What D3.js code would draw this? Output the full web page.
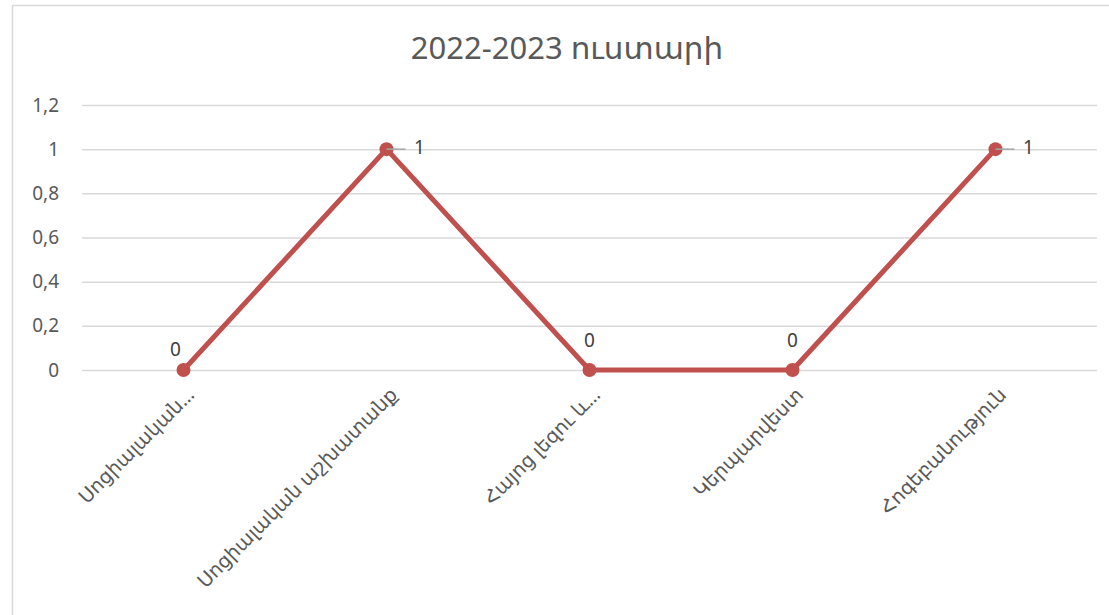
<!DOCTYPE html>
<html><head><meta charset="utf-8">
<script src="https://cdn.jsdelivr.net/npm/d3@7"></script>
<style>
body{margin:0;background:#fff;}
text{font-family:"Noto Sans","DejaVu Sans",sans-serif;}
</style></head>
<body><svg id="c" width="1109" height="615"></svg>
<script>
const title = "2022-2023 ուստարի";
const categories = ["Սոցիալական…","Սոցիալական աշխատանք","Հայոց լեզու և…","Կերպարվեստ","Հոգեբանություն"];
const values = [0,1,0,0,1];
const yTicks = [0,0.2,0.4,0.6,0.8,1,1.2];
const labelSide = ["above-left","right","above","above","right"];

const svg = d3.select("#c");
const W=1109,H=615;
svg.append("rect").attr("x",12.5).attr("y",5.5).attr("width",W).attr("height",H).attr("fill","#fff").attr("stroke","#d9d9d9").attr("stroke-width",1.5);

const m={l:82,r:1097,t:105,b:370};
const x=d3.scaleBand().domain(categories).range([m.l,m.r]);
const y=d3.scaleLinear().domain([0,1.2]).range([m.b,m.t]);
const cx=d=>x(d)+x.bandwidth()/2;

svg.append("text").attr("x",567).attr("y",51).attr("text-anchor","middle").attr("dominant-baseline","middle")
  .attr("font-size",31).attr("fill","#595959").text(title);

// gridlines
const yAxis=d3.axisLeft(y).tickValues(yTicks).tickSize(-(m.r-m.l)).tickPadding(14)
  .tickFormat(d=>d3.format("")(+d.toFixed(1)).replace(".",","));
const ga=svg.append("g").attr("transform",`translate(${m.l},0)`).call(yAxis);
ga.select(".domain").remove();
ga.selectAll(".tick line").attr("stroke","#d9d9d9").attr("stroke-width",1.5);
ga.selectAll(".tick text").attr("fill","#595959").attr("font-size",19).attr("x",-23);

// x labels
const xAxis=d3.axisBottom(x).tickSize(0).tickPadding(0);
const gx=svg.append("g").attr("transform",`translate(0,${m.b})`).call(xAxis);
gx.select(".domain").remove();
gx.selectAll(".tick text").attr("fill","#595959").attr("font-size",19.5)
  .attr("text-anchor","end").attr("dy",0).attr("y",0)
  .attr("transform","translate(12,26) rotate(-45)");

// line
const line=d3.line().x((d,i)=>cx(categories[i])).y(d=>y(d));
svg.append("path").datum(values).attr("d",line).attr("fill","none").attr("stroke","#c0504d").attr("stroke-width",5).attr("stroke-linejoin","round");
svg.selectAll("circle.pt").data(values).join("circle").attr("class","pt")
  .attr("cx",(d,i)=>cx(categories[i])).attr("cy",d=>y(d)).attr("r",7).attr("fill","#c0504d");

// data labels
values.forEach((v,i)=>{
  const px=cx(categories[i]), py=y(v), s=labelSide[i];
  let tx,ty;
  if(s==="right"){
    svg.append("line").attr("x1",px).attr("y1",py).attr("x2",px+19).attr("y2",py).attr("stroke","#a6a6a6").attr("stroke-width",1.5);
    tx=px+33; ty=py;
  } else if(s==="above-left"){ tx=px-8; ty=py-19; }
  else { tx=px; ty=py-28; }
  svg.append("text").attr("x",tx).attr("y",ty).attr("text-anchor","middle").attr("dominant-baseline","middle")
    .attr("font-size",19).attr("fill","#404040").text(d3.format("")(v));
});
</script></body></html>
